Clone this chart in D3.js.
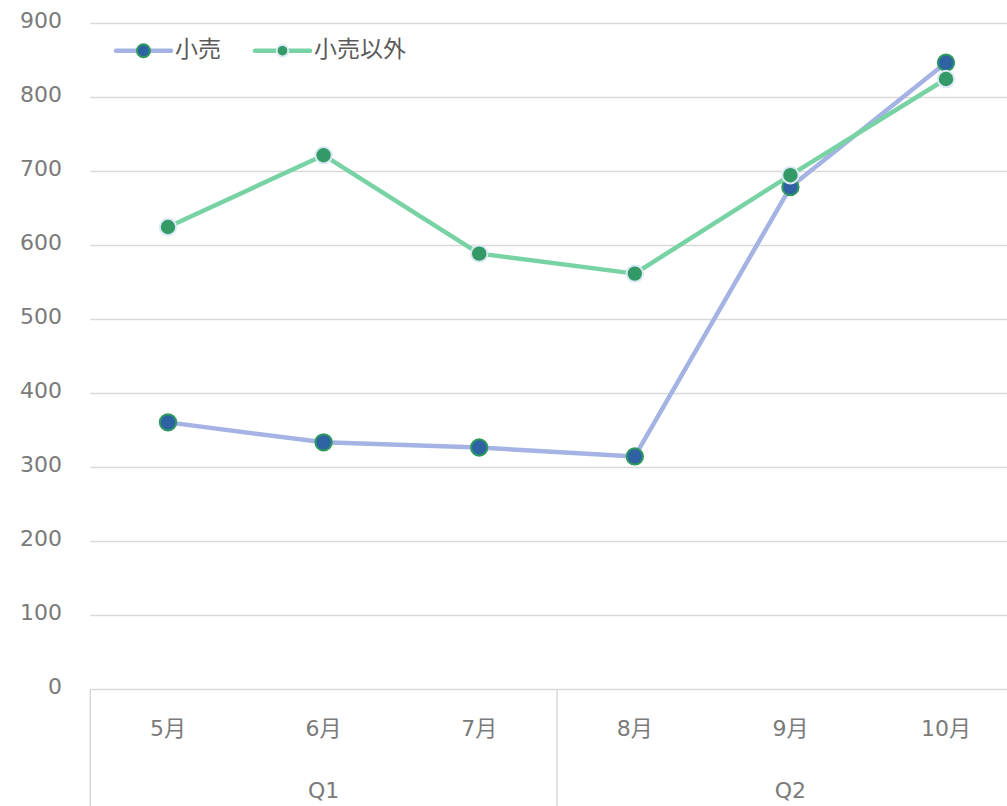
<!DOCTYPE html>
<html>
<head>
<meta charset="utf-8">
<script src="https://cdn.jsdelivr.net/npm/d3@7"></script>
<style>
  html, body { margin: 0; padding: 0; background: #fff; }
  svg { display: block; }
  text { font-family: "DejaVu Sans", "Noto Sans CJK JP", sans-serif; fill: #7a7a7a; }
</style>
</head>
<body>
<svg id="chart" width="1007" height="806"></svg>
<script>
const months = ["5月", "6月", "7月", "8月", "9月", "10月"];
const quarters = ["Q1", "Q2"];
const quarterOf = ["Q1", "Q1", "Q1", "Q2", "Q2", "Q2"];
const retail = [361, 334, 327, 315, 679, 847];
const nonRetail = [625, 722, 589, 562, 695, 825];
const seriesNames = ["小売", "小売以外"];
const yTicks = [0, 100, 200, 300, 400, 500, 600, 700, 800, 900];

const svg = d3.select("#chart");
const left = 90.2, step = 155.6;
const x = d3.scaleBand().domain(months).range([left, left + step * months.length]).padding(0);
const y = d3.scaleLinear().domain([0, 900]).range([689.5, 23.5]);

const styles = [
  { line: "#a4b3e3", fill: "#2f62a3", stroke: "#2e9a5f", r: 8.2, lr: 6.5 },
  { line: "#77d3a3", fill: "#339966", stroke: "#d9e8f5", r: 8.2, lr: 5.8 }
];

// grid
svg.append("g").selectAll("line").data(yTicks.filter(d => d > 0)).join("line")
  .attr("x1", left).attr("x2", 1007)
  .attr("y1", d => y(d)).attr("y2", d => y(d))
  .attr("stroke", "#d9d9d9").attr("stroke-width", 1.5);

// y labels
svg.append("g").selectAll("text").data(yTicks).join("text")
  .attr("x", 62).attr("y", d => y(d) - 3.5)
  .attr("text-anchor", "end").attr("dominant-baseline", "central")
  .attr("font-size", 22).text(d => d);

// x axis line & group separators
svg.append("line").attr("x1", left).attr("x2", 1007).attr("y1", y(0)).attr("y2", y(0))
  .attr("stroke", "#d9d9d9").attr("stroke-width", 1.5);
const qBounds = quarters.map(q => {
  const ms = months.filter((m, i) => quarterOf[i] === q);
  return { q, x0: x(ms[0]), x1: x(ms[ms.length - 1]) + x.bandwidth() };
});
const seps = [left].concat(qBounds.map(b => b.x1));
svg.append("g").selectAll("line").data(seps).join("line")
  .attr("x1", d => d).attr("x2", d => d).attr("y1", y(0)).attr("y2", 806)
  .attr("stroke", "#d9d9d9").attr("stroke-width", 1.5);

// month labels
svg.append("g").selectAll("text").data(months).join("text")
  .attr("x", d => x(d) + x.bandwidth() / 2).attr("y", 728)
  .attr("text-anchor", "middle").attr("dominant-baseline", "central")
  .attr("font-size", 22).text(d => d);

// quarter labels
svg.append("g").selectAll("text").data(qBounds).join("text")
  .attr("x", d => (d.x0 + d.x1) / 2).attr("y", 790)
  .attr("text-anchor", "middle").attr("dominant-baseline", "central")
  .attr("font-size", 22).text(d => d.q);

// series
const line = d3.line().x((d, i) => x(months[i]) + x.bandwidth() / 2).y(d => y(d));
[retail, nonRetail].forEach((vals, si) => {
  const st = styles[si];
  const g = svg.append("g");
  g.append("path").attr("d", line(vals)).attr("fill", "none")
    .attr("stroke", st.line).attr("stroke-width", 4.5).attr("stroke-linejoin", "round");
  g.selectAll("circle").data(vals).join("circle")
    .attr("cx", (d, i) => x(months[i]) + x.bandwidth() / 2).attr("cy", d => y(d))
    .attr("r", st.r).attr("fill", st.fill).attr("stroke", st.stroke).attr("stroke-width", 2);
});

// legend
const legendItems = [{ x: 116, tx: 175 }, { x: 255, tx: 314 }];
seriesNames.forEach((name, si) => {
  const st = styles[si], li = legendItems[si];
  const g = svg.append("g");
  g.append("line").attr("x1", li.x).attr("x2", li.x + 55).attr("y1", 50.7).attr("y2", 50.7)
    .attr("stroke", st.line).attr("stroke-width", 4.5).attr("stroke-linecap", "round");
  g.append("circle").attr("cx", li.x + 27.5).attr("cy", 50.7).attr("r", st.lr)
    .attr("fill", st.fill).attr("stroke", st.stroke).attr("stroke-width", 2);
  g.append("text").attr("x", li.tx).attr("y", 49).attr("dominant-baseline", "central")
    .attr("font-size", 23).attr("font-family", "'Noto Sans CJK JP', sans-serif")
    .style("fill", "#5a5a5a").text(name);
});
</script>
</body>
</html>
